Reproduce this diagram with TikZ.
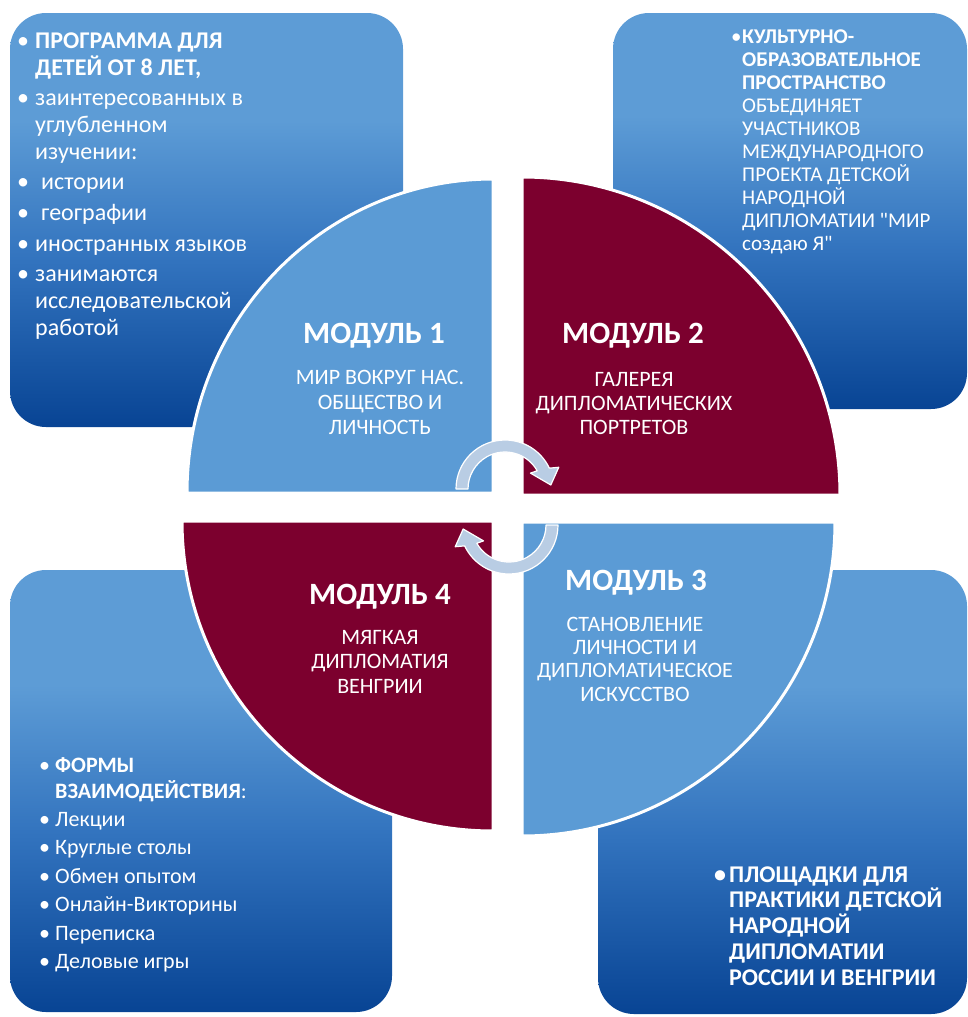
\documentclass[tikz,border=0pt]{standalone}
\usepackage{fontspec}
\setmainfont{Carlito}[Ligatures=TeXOff]
\usetikzlibrary{calc}

\definecolor{boxlight}{RGB}{93,156,214}
\definecolor{boxmid}{RGB}{50,115,190}
\definecolor{boxdark}{RGB}{8,68,148}
\definecolor{quadblue}{RGB}{91,155,213}
\definecolor{quadred}{RGB}{124,0,46}
\definecolor{arrowfill}{RGB}{185,205,228}

% info panels: flat light blue on top, darkening towards the bottom
\pgfdeclareverticalshading{infoshade}{100bp}{color(0bp)=(boxdark); color(25bp)=(boxdark); color(45bp)=(boxmid); color(62bp)=(boxlight); color(100bp)=(boxlight)}

% bulleted paragraph with hanging indent
\newcommand\bitem[2][15pt]{\par\hangindent=#1\hangafter=1\noindent\hbox to #1{•\hfil}#2}

\tikzset{
  infobox/.style={shading=infoshade, rounded corners=36pt},
  quad/.style={draw=white, line width=3pt},
  cyclearrow/.style={fill=arrowfill, draw=white, line width=1.2pt, line join=round},
  boxtext/.style={anchor=base west, inner sep=0pt, text=white},
  modtitle/.style={anchor=base, inner sep=0pt, text=white, font=\bfseries\fontsize{31}{33}\selectfont},
  modsub/.style={anchor=base, inner sep=0pt, text=white},
}

\begin{document}
\begin{tikzpicture}[x=1pt, y=-1pt]
\useasboundingbox (0,0) rectangle (968,1017);

% four info panels
\shade[infobox] (10,13) rectangle (403,427);
\shade[infobox] (613,13) rectangle (967,409);
\shade[infobox] (10,570) rectangle (392,1012);
\shade[infobox] (598,570) rectangle (967,1014);

% four quadrants of the module circle
\path[quad, fill=quadblue] (493,493) -- ++(-306,0) arc[start angle=180, end angle=270, x radius=306, y radius=314] -- cycle;
\path[quad, fill=quadred]  (522,495) -- ++(0,-318) arc[start angle=270, end angle=360, radius=318] -- cycle;
\path[quad, fill=quadblue] (522,522) -- ++(313,0) arc[start angle=0, end angle=90, x radius=313, y radius=314] -- cycle;
\path[quad, fill=quadred]  (493,521) -- ++(0,310) arc[start angle=90, end angle=180, x radius=311, y radius=310] -- cycle;

% circular arrows in the centre
\begin{scope}[shift={(505,489)}]
\path[cyclearrow] (180:49) arc[start angle=180, end angle=334.8, radius=49] -- (338:58) -- (355:46) -- (328:30) -- (330.5:37) arc[start angle=330.5, end angle=180, radius=37] -- cycle;
\end{scope}
\begin{scope}[shift={(509,525)}, rotate=180]
\path[cyclearrow] (180:49) arc[start angle=180, end angle=334.8, radius=49] -- (338:58) -- (355:46) -- (328:30) -- (330.5:37) arc[start angle=330.5, end angle=180, radius=37] -- cycle;
\end{scope}

% module captions
\node[modtitle] (m1t) at (374,343) {МОДУЛЬ 1};
\node[modsub] (m1s) at (380,384) {\vtop{\hsize=260pt\parindent=0pt\parskip=0pt\centering\fontsize{22}{25}\selectfont
МИР ВОКРУГ НАС.\par ОБЩЕСТВО И\par ЛИЧНОСТЬ\par}};

\node[modtitle] (m2t) at (633,343) {МОДУЛЬ 2};
\node[modsub] (m2s) at (634,386) {\vtop{\hsize=260pt\parindent=0pt\parskip=0pt\centering\fontsize{22}{24}\selectfont
ГАЛЕРЕЯ\par ДИПЛОМАТИЧЕСКИХ\par ПОРТРЕТОВ\par}};

\node[modtitle] (m3t) at (636,590) {МОДУЛЬ 3};
\node[modsub] (m3s) at (635,631) {\vtop{\hsize=260pt\parindent=0pt\parskip=0pt\centering\fontsize{22}{23.4}\selectfont
СТАНОВЛЕНИЕ\par ЛИЧНОСТИ И\par ДИПЛОМАТИЧЕСКОЕ\par ИСКУССТВО\par}};

\node[modtitle] (m4t) at (380,604) {МОДУЛЬ 4};
\node[modsub] (m4s) at (380,644) {\vtop{\hsize=260pt\parindent=0pt\parskip=0pt\centering\fontsize{22}{24.5}\selectfont
МЯГКАЯ\par ДИПЛОМАТИЯ\par ВЕНГРИИ\par}};

% panel texts
\node[boxtext] (tl) at (17,48) {\vtop{\hsize=360pt\parindent=0pt\fontsize{24}{27}\selectfont\parskip=3.5pt
\bitem[18pt]{\textbf{ПРОГРАММА ДЛЯ\newline ДЕТЕЙ ОТ 8 ЛЕТ,}}
\bitem[18pt]{заинтересованных в\newline углубленном\newline изучении:}
\bitem[18pt]{\hspace{6pt}истории}
\bitem[18pt]{\hspace{6pt}географии}
\bitem[18pt]{иностранных языков}
\bitem[18pt]{занимаются\newline исследовательской\newline работой}
\par}};

\node[boxtext] (tr) at (731,43) {\vtop{\hsize=360pt\parindent=0pt\fontsize{21}{23}\selectfont\parskip=0pt
\bitem[11pt]{\textbf{КУЛЬТУРНО-\newline ОБРАЗОВАТЕЛЬНОЕ\newline ПРОСТРАНСТВО}\newline ОБЪЕДИНЯЕТ\newline УЧАСТНИКОВ\newline МЕЖДУНАРОДНОГО\newline ПРОЕКТА ДЕТСКОЙ\newline НАРОДНОЙ\newline ДИПЛОМАТИИ "МИР\newline создаю Я"}
\par}};

\node[boxtext] (bl) at (39,772) {\vtop{\hsize=360pt\parindent=0pt\fontsize{22}{26}\selectfont\parskip=2.4pt
\bitem[16pt]{\textbf{ФОРМЫ\newline ВЗАИМОДЕЙСТВИЯ}:}
\bitem[16pt]{Лекции}
\bitem[16pt]{Круглые столы}
\bitem[16pt]{Обмен опытом}
\bitem[16pt]{Онлайн-Викторины}
\bitem[16pt]{Переписка}
\bitem[16pt]{Деловые игры}
\par}};

\node[boxtext] (br) at (714,882) {\vtop{\hsize=360pt\parindent=0pt\fontsize{24}{25.75}\selectfont\parskip=0pt\bfseries
\bitem[15pt]{ПЛОЩАДКИ ДЛЯ\newline ПРАКТИКИ ДЕТСКОЙ\newline НАРОДНОЙ\newline ДИПЛОМАТИИ\newline РОССИИ И ВЕНГРИИ}
\par}};
\end{tikzpicture}
\end{document}
